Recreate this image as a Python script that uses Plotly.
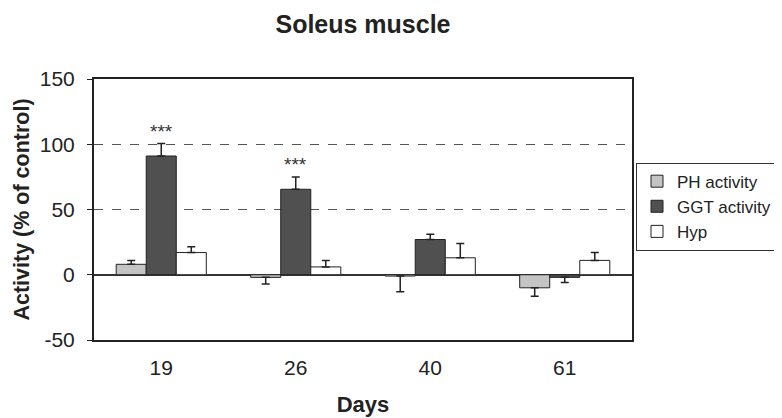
import plotly.graph_objects as go

days = ["19", "26", "40", "61"]
ph_activity = [8, -2, -1, -10]
ph_err = [3, 5, 12, 6.5]
ggt_activity = [91, 65.5, 27, -2]
ggt_err = [9.5, 9.5, 4, 4]
hyp = [17, 6, 13, 11]
hyp_err = [4.5, 5, 11, 6]
sig_labels = ["***", "***", "", ""]
y_ticks = [-50, 0, 50, 100, 150]
y_ticktext = ["-50", "0", "50", "100", "150"]

def err_dir(vals, errs):
    plus = [e if v >= 0 else 0 for v, e in zip(vals, errs)]
    minus = [e if v < 0 else 0 for v, e in zip(vals, errs)]
    return plus, minus

fig = go.Figure()
series = [
    ("PH activity", ph_activity, ph_err, "#c4c4c4"),
    ("GGT activity", ggt_activity, ggt_err, "#505050"),
    ("Hyp", hyp, hyp_err, "#ffffff"),
]
for name, vals, errs, col in series:
    p, m = err_dir(vals, errs)
    fig.add_trace(go.Bar(
        name=name, x=days, y=vals,
        marker=dict(color=col, line=dict(color="#222222", width=1)),
        error_y=dict(type="data", symmetric=False, array=p, arrayminus=m,
                     color="#222222", thickness=1.5, width=4),
    ))

for i, lab in enumerate(sig_labels):
    if lab:
        fig.add_annotation(x=i, y=ggt_activity[i] + ggt_err[i], text=lab,
                           showarrow=False, yanchor="bottom", yshift=0,
                           font=dict(size=19, color="#333333"))

# page body has an 8px offset; figure is placed so the visible area matches 782x418
W, H = 774, 410
fig.update_layout(
    width=W, height=H,
    margin=dict(l=86, r=150, t=71, b=78, autoexpand=False),
    paper_bgcolor="white", plot_bgcolor="white",
    font=dict(family="Liberation Sans, Arial, sans-serif", color="#222222", size=21),
    title=dict(text="<b>Soleus muscle</b>", x=355 / W, xanchor="center",
               y=1 - 16 / H, yanchor="middle", font=dict(size=25)),
    barmode="group", bargap=0.33, bargroupgap=0,
    showlegend=True,
    legend=dict(x=(636 - 94) / 538, xanchor="left", y=0.511, yanchor="middle",
                bordercolor="#333333", borderwidth=1, bgcolor="white",
                font=dict(size=17), tracegroupgap=0, itemwidth=30),
)
fig.update_xaxes(
    type="category", automargin=False,
    title=dict(text="<b>Days</b>", font=dict(size=22), standoff=18),
    showline=True, linecolor="#222222", linewidth=2, mirror=True,
    ticks="", tickfont=dict(size=21), ticklabelstandoff=8,
)
fig.update_yaxes(
    automargin=False,
    title=dict(text="<b>Activity (% of control)</b>", font=dict(size=21.5), standoff=4),
    range=[-50, 150], tickvals=y_ticks, ticktext=y_ticktext,
    showline=True, linecolor="#222222", linewidth=2, mirror=True,
    ticks="outside", ticklen=5, tickcolor="#222222", ticklabelstandoff=8,
    showgrid=True, gridcolor="#555555", griddash="dash", gridwidth=1,
    zeroline=True, zerolinecolor="#333333", zerolinewidth=2,
    tickfont=dict(size=21),
)

fig.write_html("out.html")
